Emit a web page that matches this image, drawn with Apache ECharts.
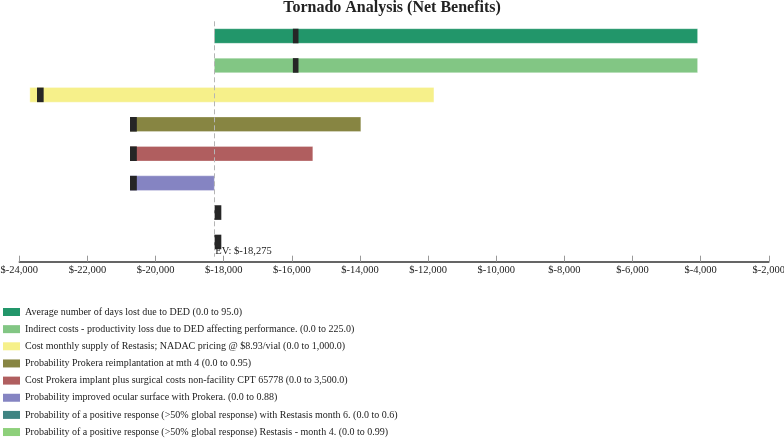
<!DOCTYPE html>
<html>
<head>
<meta charset="utf-8">
<title>Tornado Analysis</title>
<script src="https://cdn.jsdelivr.net/npm/echarts@6/dist/echarts.min.js"></script>
<style>
  html, body { margin: 0; padding: 0; background: #fff; }
  #chart { width: 784px; height: 438px; }
</style>
</head>
<body>
<div id="chart"></div>
<script>
// variables (top to bottom)
const categories = [
  'Average number of days lost due to DED (0.0 to 95.0)',
  'Indirect costs - productivity loss due to DED affecting performance. (0.0 to 225.0)',
  'Cost monthly supply of Restasis; NADAC pricing @ $8.93/vial (0.0 to 1,000.0)',
  'Probability Prokera reimplantation at mth 4 (0.0 to 0.95)',
  'Cost Prokera implant plus surgical costs non-facility CPT 65778 (0.0 to 3,500.0)',
  'Probability improved ocular surface with Prokera. (0.0 to 0.88)',
  'Probability of a positive response (>50% global response) with Restasis month 6. (0.0 to 0.6)',
  'Probability of a positive response (>50% global response) Restasis - month 4. (0.0 to 0.99)'
]
const barColors = ['#22966a', '#82c684', '#f6f08a', '#878542', '#b05e5f', '#8584c2', '#3f8482', '#8ed07b']

const ev = -18275
// range of net benefit for each variable
const lowVals  = [-18275, -18275, -23690, -20750, -20750, -20750, -18275, -18275]
const highVals = [-4090, -4090, -11830, -13975, -15385, -18275, -18275, -18275]
// dark marker segment on each bar
const markLo = [-15970, -15970, -23480, -20750, -20750, -20750, -18275, -18275]
const markHi = [-15805, -15805, -23285, -20550, -20550, -20550, -18070, -18070]

const xTicks = { min: -24000, max: -2000, step: 2000 }

const serif = '"Liberation Serif", "DejaVu Serif", serif'

function money (v) {
  const s = Math.abs(v).toString().replace(/\B(?=(\d{3})+(?!\d))/g, ',')
  return '$' + (v < 0 ? '-' : '') + s
}

const myChart = echarts.init(document.getElementById('chart'))

const series = categories.map((name, i) => ({
  name: name,
  type: 'custom',
  itemStyle: { color: barColors[i] },
  encode: { x: [1, 2], y: 0 },
  data: [[i, lowVals[i], highVals[i], markLo[i], markHi[i]]],
  renderItem: (params, api) => {
    const row = api.value(0)
    const band = api.size([0, 1])[1]
    const h = band * 0.497
    const a = api.coord([api.value(1), row])
    const b = api.coord([api.value(2), row])
    const m1 = api.coord([api.value(3), row])
    const m2 = api.coord([api.value(4), row])
    const children = []
    if (b[0] - a[0] > 0.5) {
      children.push({
        type: 'rect',
        shape: { x: a[0], y: a[1] - h / 2, width: b[0] - a[0], height: h },
        style: { fill: barColors[i], stroke: 'rgba(255,255,255,0.5)', lineWidth: 0.6 }
      })
    }
    children.push({
      type: 'rect',
      shape: { x: m1[0], y: m1[1] - h / 2, width: m2[0] - m1[0], height: h },
      style: { fill: '#262626' }
    })
    return { type: 'group', children: children }
  },
  markLine: i === 0 ? {
    silent: true,
    symbol: 'none',
    label: { show: false },
    lineStyle: { color: '#b5b5b5', type: [5, 3], width: 1 },
    data: [{ xAxis: ev }]
  } : undefined,
  z: 3
}))

const option = {
  animation: false,
  title: {
    text: 'Tornado Analysis (Net Benefits)',
    left: 'center',
    top: -5,
    textStyle: { fontFamily: serif, fontSize: 16, fontWeight: 'bold', color: '#222' }
  },
  legend: {
    data: categories,
    orient: 'vertical',
    left: 3,
    top: 306,
    height: 140,
    padding: 0,
    icon: 'rect',
    itemWidth: 17,
    itemHeight: 8,
    itemGap: 5.15,
    selectedMode: false,
    textStyle: { fontFamily: serif, fontSize: 10, color: '#222', lineHeight: 12 }
  },
  grid: {
    left: 19.3,
    right: 15.2,
    top: 21.3,
    height: 235.4,
    containLabel: false,
    outerBoundsMode: 'none'
  },
  xAxis: {
    type: 'value',
    min: xTicks.min,
    max: xTicks.max,
    interval: xTicks.step,
    position: 'bottom',
    offset: 5,
    axisLine: { show: true, lineStyle: { color: '#333', width: 1.5 } },
    axisTick: { show: true, inside: true, length: 6, lineStyle: { color: '#999' } },
    axisLabel: {
      margin: 3,
      fontFamily: serif,
      fontSize: 10.5,
      color: '#222',
      formatter: money
    },
    splitLine: { show: false }
  },
  yAxis: {
    type: 'category',
    data: categories,
    inverse: true,
    show: false
  },
  series: series
}
myChart.setOption(option)

// EV label next to the dashed line
const evPx = myChart.convertToPixel({ xAxisIndex: 0 }, ev)
myChart.setOption({
  graphic: [{
    type: 'text',
    left: evPx + 1,
    top: 246,
    style: { text: 'EV: ' + money(ev), font: '10.5px ' + serif, fill: '#222' },
    z: 10
  }]
})
</script>
</body>
</html>
